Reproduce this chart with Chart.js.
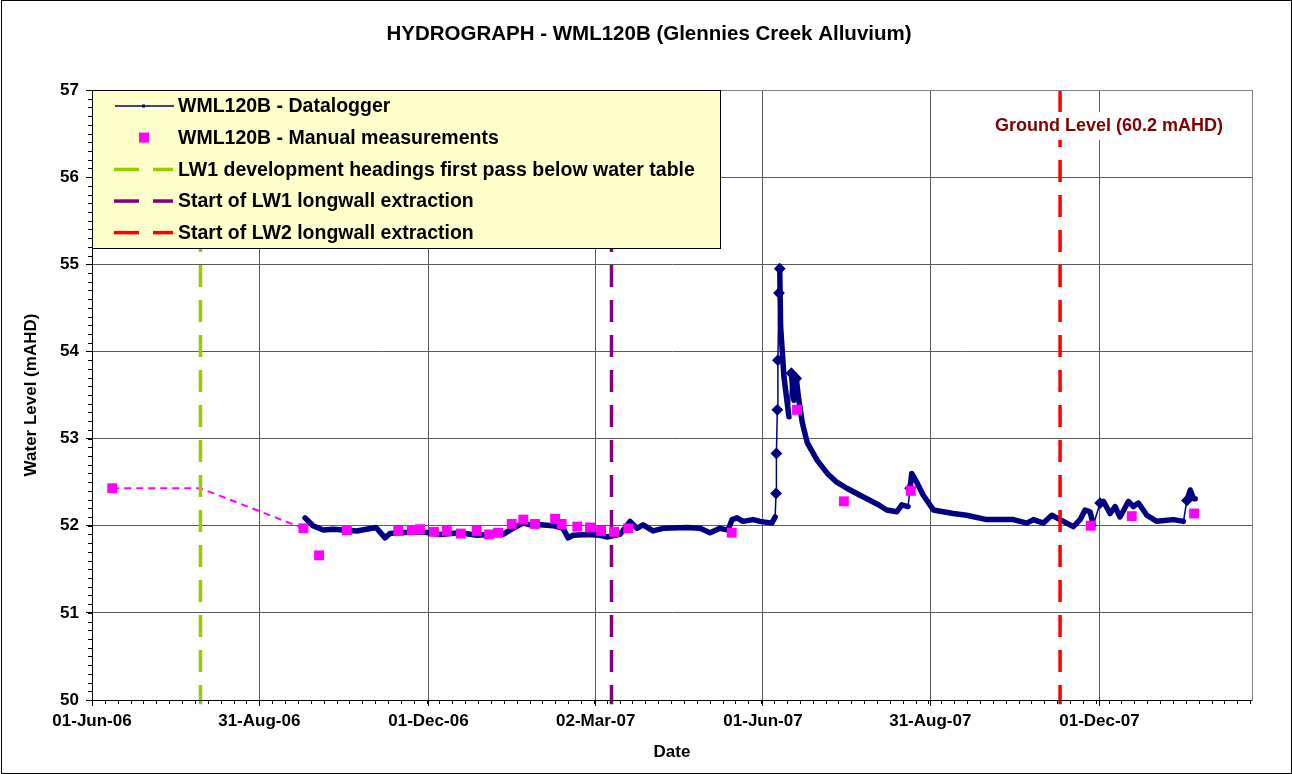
<!DOCTYPE html>
<html>
<head>
<meta charset="utf-8">
<title>Hydrograph WML120B</title>
<script src="https://cdn.jsdelivr.net/npm/chart.js@4.4.1/dist/chart.umd.min.js"></script>
<style>
  html, body { margin: 0; padding: 0; background: #fff; }
</style>
</head>
<body>
<canvas id="hydro" width="1292" height="774"></canvas>
<script>
// all x values are days counted from 01-Jun-06
var tickDays = [0, 91, 183, 274, 365, 456, 548];
var tickLabels = ["01-Jun-06", "31-Aug-06", "01-Dec-06", "02-Mar-07", "01-Jun-07", "31-Aug-07", "01-Dec-07"];
var levelTicks = [50, 51, 52, 53, 54, 55, 56, 57];

var loggerDays = [115.9, 120.2, 125.8, 131.1, 144, 154.5, 159.4, 162.1, 167.6, 179.4, 189.3, 200.2, 209.3, 216.5, 223.6,
  229, 234.5, 238.3, 243.7, 250.8, 256.2, 259, 261.7, 269.3, 276.4, 280.2, 287.2, 292.7, 296.5, 299.7, 305.2, 310.6,
  323.7, 330.8, 336.2, 341.6, 346, 348.2, 350.9, 354.1, 359.6, 363.4, 369.8, 371.6, 372.1, 372.3, 372.8, 373.1, 373.7,
  374.1, 374.6, 376.4, 379.1, 380.4, 381.8, 383.1, 384.5, 386.4, 389.1, 394.5, 400, 405.1, 410.6, 417.8, 427.8, 432.3,
  437.8, 440.5, 443.9, 445, 445.9, 448.6, 452.2, 457.7, 468.4, 475.8, 486.7, 501.2, 508.5, 512.1, 517.5, 522.1, 526.6,
  533.8, 537.5, 540.2, 542.9, 544.7, 548.4, 550.2, 553.8, 556.5, 559.2, 563.8, 566.5, 569.2, 573.8, 579.2, 588.3, 593.7,
  595.6, 597.4, 599.2, 600.1];
var loggerLevels = [52.09, 52.00, 51.95, 51.96, 51.94, 51.98, 51.86, 51.91, 51.92, 51.93, 51.90, 51.92, 51.89, 51.90, 51.90,
  51.97, 52.03, 52.01, 52.01, 52.00, 51.97, 51.86, 51.89, 51.90, 51.89, 51.87, 51.90, 52.05, 51.97, 52.01, 51.94, 51.97,
  51.98, 51.97, 51.92, 51.97, 51.95, 52.07, 52.09, 52.05, 52.07, 52.05, 52.03, 52.10, 52.37, 52.83, 53.33, 53.90, 54.67,
  54.95, 54.28, 53.71, 53.25, 53.75, 53.44, 53.69, 53.44, 53.18, 52.95, 52.75, 52.60, 52.50, 52.43, 52.35, 52.24, 52.18,
  52.16, 52.24, 52.22, 52.43, 52.60, 52.50, 52.35, 52.18, 52.14, 52.12, 52.07, 52.07, 52.03, 52.07, 52.03, 52.12, 52.07,
  51.99, 52.07, 52.18, 52.16, 52.01, 52.26, 52.28, 52.14, 52.22, 52.10, 52.28, 52.22, 52.26, 52.12, 52.05, 52.07, 52.05,
  52.29, 52.41, 52.31, 52.31];

var manualDays = [11, 115, 123.5, 138.6, 166.6, 173.9, 178.4, 186, 193, 200.6, 209.3, 216, 220.9, 228.3, 234.6, 241,
  251.9, 255.5, 264, 270.9, 276.9, 284, 291.7, 348, 383.5, 409, 445.4, 543.3, 565.6, 599.5];
var manualLevels = [52.43, 51.97, 51.66, 51.95, 51.94, 51.95, 51.96, 51.93, 51.94, 51.91, 51.94, 51.90, 51.92, 52.02, 52.07, 52.02,
  52.08, 52.02, 51.99, 51.98, 51.94, 51.93, 51.97, 51.92, 53.33, 52.28, 52.40, 52.00, 52.11, 52.14];

// dashed link between the early manual readings
var linkDays = [11, 59, 115];
var linkLevels = [52.43, 52.43, 51.97];

var eventDays = [59, 282.6, 526.6];
var eventNames = ["LW1 development headings first pass below water table", "Start of LW1 longwall extraction", "Start of LW2 longwall extraction"];
var eventColors = ["#99CC00", "#800080", "#FF0000"];

var axisMax = 631;
var font = '"Liberation Sans", Arial, sans-serif';

function pairs(xs, ys) {
  return xs.map(function (x, i) { return {x: x, y: ys[i]}; });
}

var datasets = [];
datasets.push({
  label: "WML120B - Manual measurements",
  data: pairs(manualDays, manualLevels),
  showLine: false,
  pointStyle: "rect",
  pointRadius: 7,
  backgroundColor: "#FF00FF",
  borderColor: "#FF00FF",
  borderWidth: 0,
  order: 0
});
eventDays.forEach(function (d, i) {
  datasets.push({
    label: eventNames[i],
    data: [{x: d, y: 57}, {x: d, y: 49.95}],
    borderColor: eventColors[i],
    borderWidth: 3.5,
    borderDash: [22, 13],
    pointRadius: 0,
    clip: false,
    order: 1
  });
});
datasets.push({
  label: "WML120B - Datalogger",
  data: pairs(loggerDays, loggerLevels),
  borderColor: "#000080",
  backgroundColor: "#000080",
  borderWidth: 5.5,
  borderJoinStyle: "round",
  borderCapStyle: "round",
  pointStyle: "rectRot",
  pointRadius: function (c) {
    var i = c.dataIndex;
    if (i > 0 && loggerLevels[i] - loggerLevels[i - 1] > 0.2) return 2;
    return 0;
  },
  segment: {
    borderWidth: function (c) { return c.p1.parsed.y - c.p0.parsed.y > 0.2 ? 1.5 : undefined; }
  },
  order: 2
});
datasets.push({
  label: "link",
  data: pairs(linkDays, linkLevels),
  borderColor: "#FF00FF",
  borderWidth: 2,
  borderDash: [7, 5],
  pointRadius: 0,
  order: 3
});

var frame = {
  id: "frame",
  beforeDraw: function (chart) {
    var ctx = chart.ctx;
    ctx.save();
    ctx.fillStyle = "#fff";
    ctx.fillRect(0, 0, chart.width, chart.height);
    ctx.restore();
  },
  afterDraw: function (chart) {
    var ctx = chart.ctx, a = chart.chartArea;
    var xs = chart.scales.x, ys = chart.scales.y;
    ctx.save();

    // plot area border
    ctx.strokeStyle = "#808080";
    ctx.lineWidth = 1;
    ctx.strokeRect(a.left + 0.5, a.top + 0.5, a.right - a.left, a.bottom - a.top);
    ctx.strokeStyle = "#000";
    ctx.beginPath();
    ctx.moveTo(a.left + 0.5, a.top);
    ctx.lineTo(a.left + 0.5, a.bottom + 0.5);
    ctx.lineTo(a.right, a.bottom + 0.5);
    ctx.stroke();

    // minor ticks
    ctx.beginPath();
    for (var d = 0; d <= axisMax; d += 7) {
      var px = Math.round(xs.getPixelForValue(d)) + 0.5;
      ctx.moveTo(px, a.bottom);
      ctx.lineTo(px, a.bottom + 4);
    }
    for (var k = 0; k <= 70; k++) {
      var py = Math.round(ys.getPixelForValue(50 + k / 10)) + 0.5;
      ctx.moveTo(a.left - 4, py);
      ctx.lineTo(a.left, py);
    }
    ctx.stroke();

    // title
    ctx.fillStyle = "#000";
    ctx.font = "bold 20.5px " + font;
    ctx.textAlign = "center";
    ctx.textBaseline = "middle";
    ctx.fillText("HYDROGRAPH - WML120B (Glennies Creek Alluvium)", 649, 34);

    // ground level note
    ctx.font = "bold 18px " + font;
    var note = "Ground Level (60.2 mAHD)";
    var nw = ctx.measureText(note).width;
    ctx.fillStyle = "#fff";
    ctx.fillRect(1109 - nw / 2 - 3, 112, nw + 6, 28);
    ctx.fillStyle = "#800000";
    ctx.fillText(note, 1109, 126);

    // legend
    var lx = a.left, ly = a.top, lw = 628, lh = 158;
    ctx.fillStyle = "#FFFFCC";
    ctx.fillRect(lx, ly, lw, lh);
    ctx.strokeStyle = "#000";
    ctx.lineWidth = 1;
    ctx.strokeRect(lx + 0.5, ly + 0.5, lw, lh);
    var rows = [
      {name: "WML120B - Datalogger", kind: "logger", color: "#000080"},
      {name: "WML120B - Manual measurements", kind: "square", color: "#FF00FF"}
    ];
    eventNames.forEach(function (n, i) { rows.push({name: n, kind: "dash", color: eventColors[i]}); });
    ctx.font = "bold 19.5px " + font;
    ctx.textAlign = "left";
    rows.forEach(function (r, i) {
      var cy = ly + 16 + i * 31.6;
      if (r.kind === "logger") {
        ctx.strokeStyle = r.color;
        ctx.lineWidth = 1.5;
        ctx.beginPath();
        ctx.moveTo(lx + 23, cy);
        ctx.lineTo(lx + 82, cy);
        ctx.stroke();
        ctx.fillStyle = r.color;
        ctx.fillRect(lx + 50, cy - 1.5, 3, 3);
      } else if (r.kind === "square") {
        ctx.fillStyle = r.color;
        ctx.fillRect(lx + 47, cy - 5, 10, 10);
      } else {
        ctx.fillStyle = r.color;
        ctx.fillRect(lx + 22, cy - 1.5, 25, 3.5);
        ctx.fillRect(lx + 61, cy - 1.5, 20, 3.5);
      }
      ctx.fillStyle = "#000";
      ctx.fillText(r.name, lx + 86, cy + 1);
    });

    // outer frame
    ctx.strokeStyle = "#000";
    ctx.lineWidth = 1;
    ctx.strokeRect(1.5, 0.5, chart.width - 2, chart.height - 1);
    ctx.restore();
  }
};

new Chart("hydro", {
  type: "line",
  data: {datasets: datasets},
  options: {
    responsive: false,
    animation: false,
    events: [],
    layout: {padding: {left: 0, top: 90, right: 40, bottom: 0}},
    plugins: {
      legend: {display: false},
      tooltip: {enabled: false}
    },
    scales: {
      x: {
        type: "linear",
        min: 0,
        max: axisMax,
        afterFit: function (s) { s.height = 74; },
        afterBuildTicks: function (s) {
          s.ticks = tickDays.map(function (d) { return {value: d}; });
        },
        ticks: {
          color: "#000",
          font: {family: font, size: 17, weight: "bold"},
          padding: 5,
          maxRotation: 0,
          autoSkip: false,
          callback: function (v) {
            var i = tickDays.indexOf(v);
            return i < 0 ? "" : tickLabels[i];
          }
        },
        grid: {color: "#5a5a5a", tickColor: "#000", tickLength: 6},
        border: {color: "#000"},
        title: {
          display: true,
          text: "Date",
          color: "#000",
          font: {family: font, size: 17, weight: "bold"},
          padding: {top: 0, bottom: 11}
        }
      },
      y: {
        min: 50,
        max: 57,
        afterFit: function (s) { s.width = 92; },
        afterBuildTicks: function (s) {
          s.ticks = levelTicks.map(function (v) { return {value: v}; });
        },
        ticks: {
          color: "#000",
          font: {family: font, size: 17, weight: "bold"},
          padding: 7
        },
        grid: {color: "#5a5a5a", tickColor: "#000", tickLength: 6},
        border: {color: "#000"},
        title: {
          display: true,
          text: "Water Level (mAHD)",
          color: "#000",
          font: {family: font, size: 17, weight: "bold"},
          padding: {top: 21, bottom: 0}
        }
      }
    }
  },
  plugins: [frame]
});
</script>
</body>
</html>
